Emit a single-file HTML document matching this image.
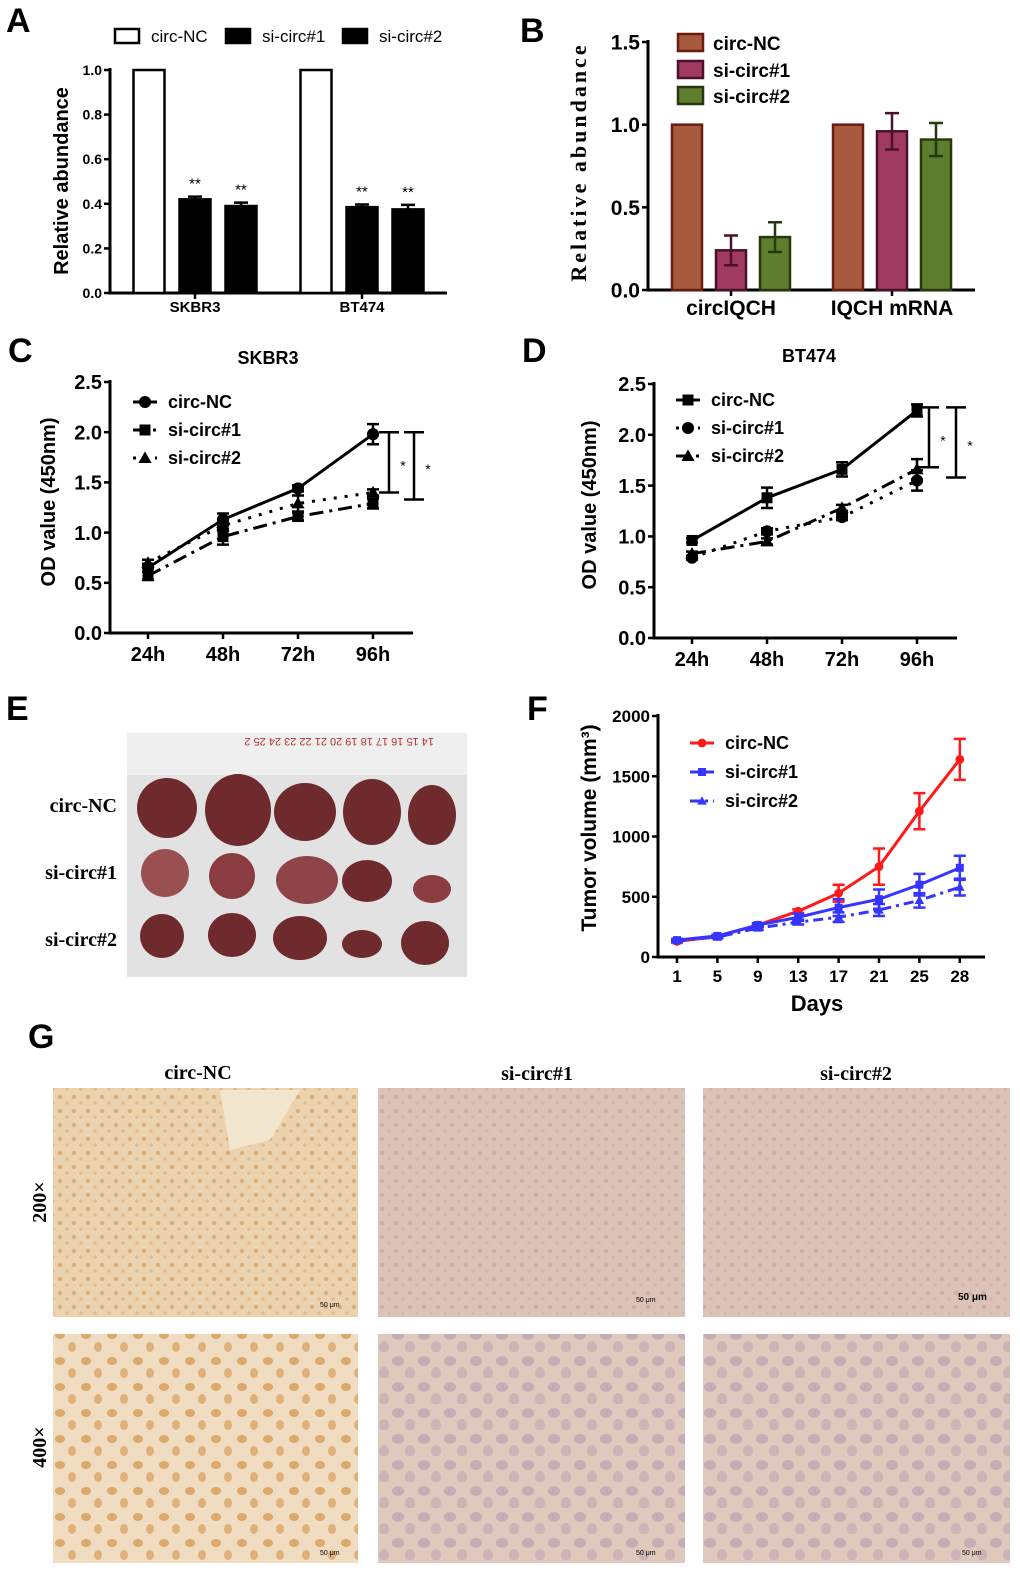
<!DOCTYPE html>
<html><head><meta charset="utf-8"><style>
html,body{margin:0;padding:0;background:#fff;}
svg{display:block;font-family:"Liberation Sans",Arial,sans-serif;}
.serif{font-family:"Liberation Serif",serif;}
</style></head><body>
<svg id="fig" width="1020" height="1577" viewBox="0 0 1020 1577" xmlns="http://www.w3.org/2000/svg">
<defs>
<pattern id="ihcNC" width="14" height="14" patternUnits="userSpaceOnUse"><rect width="14" height="14" fill="#ecd3b0"/><circle cx="4" cy="5" r="2.2" fill="#dcae78"/><circle cx="11" cy="11" r="1.8" fill="#e2bb8e"/></pattern>
<pattern id="ihcNC4" width="26" height="26" patternUnits="userSpaceOnUse"><rect width="26" height="26" fill="#f0dcc0"/><ellipse cx="8" cy="9" rx="5" ry="4" fill="#dca86c"/><ellipse cx="20" cy="21" rx="4" ry="5" fill="#e0b07a"/></pattern>
<pattern id="ihcSI" width="14" height="14" patternUnits="userSpaceOnUse"><rect width="14" height="14" fill="#dcc3b6"/><circle cx="4" cy="5" r="2.2" fill="#c9afb2"/><circle cx="11" cy="11" r="1.8" fill="#d0b6b4"/></pattern>
<pattern id="ihcSI4" width="26" height="26" patternUnits="userSpaceOnUse"><rect width="26" height="26" fill="#dfc8bc"/><ellipse cx="8" cy="9" rx="6" ry="5" fill="#c6acb4"/><ellipse cx="20" cy="21" rx="5" ry="6" fill="#cdb3b6"/></pattern>
</defs>
<g id="labels" font-weight="bold" font-size="34">
<text x="6" y="32">A</text>
<text x="520" y="42">B</text>
<text x="8" y="362">C</text>
<text x="522" y="362">D</text>
<text x="6" y="720">E</text>
<text x="527" y="720">F</text>
<text x="28" y="1048">G</text>
</g>
<g id="panelA"></g><g id="panelB"></g><g id="panelC"></g><g id="panelD"></g><g id="panelF"></g>
<g id="panelE">
<rect x="127" y="733" width="340" height="244" fill="#e2e2e2"/>
<rect x="127" y="733" width="340" height="42" fill="#efefef"/>
<g font-size="11" fill="#b33" transform="rotate(180 297 742)">
<text x="160" y="746">14 15 16 17 18 19 20 21 22 23 24 25 2</text></g>
<g fill="#6e2a2c">
<ellipse cx="167" cy="808" rx="30" ry="30"/><ellipse cx="238" cy="810" rx="33" ry="36"/><ellipse cx="305" cy="812" rx="31" ry="29"/><ellipse cx="372" cy="812" rx="29" ry="33"/><ellipse cx="432" cy="815" rx="24" ry="30"/>
<ellipse cx="165" cy="873" rx="24" ry="24" fill="#9a5050"/><ellipse cx="232" cy="876" rx="23" ry="23" fill="#8a3c40"/><ellipse cx="307" cy="880" rx="31" ry="24" fill="#8e4448"/><ellipse cx="367" cy="881" rx="25" ry="21"/><ellipse cx="432" cy="889" rx="19" ry="14" fill="#8a3c40"/>
<ellipse cx="162" cy="936" rx="22" ry="22"/><ellipse cx="232" cy="935" rx="24" ry="22"/><ellipse cx="300" cy="938" rx="27" ry="22"/><ellipse cx="362" cy="944" rx="20" ry="14"/><ellipse cx="425" cy="943" rx="24" ry="22"/>
</g>
<g class="serif" font-weight="bold" font-size="20" text-anchor="end">
<text x="117" y="812">circ-NC</text>
<text x="117" y="879">si-circ#1</text>
<text x="117" y="946">si-circ#2</text>
</g></g>
<g id="panelG">
<g class="serif" font-weight="bold" font-size="20" text-anchor="middle">
<text x="198" y="1079">circ-NC</text>
<text x="537" y="1080">si-circ#1</text>
<text x="856" y="1080">si-circ#2</text>
<text transform="translate(46 1202) rotate(-90)">200×</text>
<text transform="translate(46 1447) rotate(-90)">400×</text>
</g>
<rect x="53" y="1088" width="305" height="229" fill="url(#ihcNC)"/>
<rect x="378" y="1088" width="307" height="229" fill="url(#ihcSI)"/>
<rect x="703" y="1088" width="307" height="229" fill="url(#ihcSI)"/>
<rect x="53" y="1334" width="305" height="229" fill="url(#ihcNC4)"/>
<rect x="378" y="1334" width="307" height="229" fill="url(#ihcSI4)"/>
<rect x="703" y="1334" width="307" height="229" fill="url(#ihcSI4)"/>
<path d="M220 1090 L300 1090 L270 1140 L230 1150 Z" fill="#f3e6cf"/>
<g font-size="7" fill="#000"><text x="320" y="1307">50 μm</text><text x="636" y="1302">50 μm</text><text x="958" y="1300" font-size="10" font-weight="bold">50 μm</text><text x="320" y="1555">50 μm</text><text x="636" y="1555">50 μm</text><text x="962" y="1555">50 μm</text></g>
</g>
</svg>
<script>
// Panel A data
const aCats = ['SKBR3','BT474'];
const aNC = [1.0, 1.0];
const aSi1 = [0.42, 0.385];
const aSi2 = [0.39, 0.375];
const aSi1Err = [0.012, 0.012];
const aSi2Err = [0.015, 0.02];
const aTicks = ['0.0','0.2','0.4','0.6','0.8','1.0'];
// Panel B data
const bCats = ['circIQCH','IQCH mRNA'];
const bNC = [1.0, 1.0];
const bSi1 = [0.24, 0.96];
const bSi2 = [0.32, 0.91];
const bSi1Err = [0.09, 0.11];
const bSi2Err = [0.09, 0.10];
const bTicks = ['0.0','0.5','1.0','1.5'];
// Panel C data
const cCats = ['24h','48h','72h','96h'];
const cNC = [0.65, 1.13, 1.44, 1.98];
const cSi1 = [0.57, 0.96, 1.16, 1.29];
const cSi2 = [0.70, 1.07, 1.29, 1.40];
const cNCErr = [0.04, 0.06, 0.03, 0.1];
const cSi1Err = [0.04, 0.08, 0.04, 0.05];
const cSi2Err = [0.03, 0.05, 0.08, 0.03];
// Panel D data
const dCats = ['24h','48h','72h','96h'];
const dNC = [0.96, 1.38, 1.66, 2.24];
const dSi1 = [0.79, 1.05, 1.19, 1.55];
const dSi2 = [0.83, 0.95, 1.28, 1.66];
const dNCErr = [0.02, 0.1, 0.07, 0.06];
const dSi1Err = [0.02, 0.03, 0.03, 0.1];
const dSi2Err = [0.02, 0.03, 0.03, 0.1];
const odTicks = ['0.0','0.5','1.0','1.5','2.0','2.5'];
// Panel F data
const fCats = ['1','5','9','13','17','21','25','28'];
const fNC = [130, 170, 265, 380, 530, 750, 1210, 1640];
const fSi1 = [140, 175, 265, 330, 410, 480, 600, 740];
const fSi2 = [135, 165, 240, 290, 330, 390, 470, 580];
const fNCErr = [10, 10, 10, 15, 70, 150, 150, 170];
const fSi1Err = [10, 10, 15, 30, 70, 80, 90, 100];
const fSi2Err = [10, 10, 15, 20, 40, 50, 60, 70];
const fTicks = ['0','500','1000','1500','2000'];

const NS='http://www.w3.org/2000/svg';
function mk(parent, tag, attrs, text){
  const e=document.createElementNS(NS,tag);
  for(const k in attrs) e.setAttribute(k,attrs[k]);
  if(text!==undefined) e.textContent=text;
  parent.appendChild(e); return e;
}
function lin(d0,d1,r0,r1){return v=>r0+(v-d0)/(d1-d0)*(r1-r0);}

function yAxis(g, x, y0, y1, x2, ticks, scale, fs){
  const ax=mk(g,'path',{d:`M${x} ${y1-2} V${y0} H${x2}`,stroke:'#000','stroke-width':3,fill:'none'});
  
  
  ticks.forEach(t=>{
    const y=scale(parseFloat(t));
    mk(g,'line',{x1:x-6,x2:x,y1:y,y2:y,stroke:'#000','stroke-width':2.5});
    const tl=mk(g,'text',{x:x-8,y:y+fs*0.36,'text-anchor':'end','font-size':fs,'font-weight':'bold'},t);
    
    
  });
}

function barPanel(id, o){
  const g=document.getElementById(id);
  const y=lin(0,o.ymax,o.y0,o.y1);
  yAxis(g,o.x,o.y0,o.y1,o.x2,o.ticks,y,o.tfs);
  o.cats.forEach((c,i)=>{
    const cx=o.cx[i];
    mk(g,'line',{x1:cx,x2:cx,y1:o.y0,y2:o.y0+6,stroke:'#000','stroke-width':2.5});
    const cl=mk(g,'text',{x:cx,y:o.y0+o.cfs+4,'text-anchor':'middle','font-size':o.cfs,'font-weight':'bold'},c);
    
    
    o.series.forEach((s,j)=>{
      const bx=cx+(j-1)*o.gap-o.bw/2, v=s.vals[i];
      const r=mk(g,'rect',{x:bx,y:y(v),width:o.bw,height:o.y0-y(v),fill:s.fill,stroke:s.stroke,'stroke-width':2.5});
      
      
      if(s.err){
        const e=s.err[i], mx=bx+o.bw/2;
        mk(g,'path',{d:`M${mx} ${y(v+e)} V${y(Math.max(0,v-(o.twoSided?e:0)))} M${mx-7} ${y(v+e)} H${mx+7}`+(o.twoSided?` M${mx-7} ${y(v-e)} H${mx+7}`:''),stroke:s.stroke,'stroke-width':2.5,fill:'none'});
        if(o.stars){const st=mk(g,'text',{x:mx,y:y(v+e)-8,'text-anchor':'middle','font-size':15},'**');
          
          }
      }
    });
  });
  o.legend.forEach((l,k)=>{
    mk(g,'rect',{x:l.x,y:l.y,width:o.lw,height:o.lh,fill:o.series[k].fill,stroke:o.series[k].stroke,'stroke-width':2.5});
    const lt=mk(g,'text',{x:l.x+o.lw+o.lgap,y:l.y+o.lh-1,'font-size':o.lfs,'font-weight':o.lbold?'bold':'normal'},o.series[k].label);
    
    
  });
}

barPanel('panelA',{x:110,x2:447,y0:293,y1:70,ymax:1.0,ticks:aTicks,tfs:14,cats:aCats,cx:[195,362],cfs:15,gap:46,bw:31,stars:true,twoSided:false,
 series:[{name:'circ-nc',label:'circ-NC',vals:aNC,fill:'#fff',stroke:'#000'},{name:'si-circ1',label:'si-circ#1',vals:aSi1,err:aSi1Err,fill:'#000',stroke:'#000'},{name:'si-circ2',label:'si-circ#2',vals:aSi2,err:aSi2Err,fill:'#000',stroke:'#000'}],
 legend:[{x:115,y:29},{x:226,y:29},{x:343,y:29}],lw:24,lh:14,lgap:12,lfs:17,lbold:false});
(function(){const t=mk(document.getElementById('panelA'),'text',{transform:'translate(68 181) rotate(-90)','text-anchor':'middle','font-size':20,'font-weight':'bold'},'Relative abundance');
 
 })();

barPanel('panelB',{x:648,x2:975,y0:290,y1:42,ymax:1.5,ticks:bTicks,tfs:21,cats:bCats,cx:[731,892],cfs:21,gap:44,bw:30,stars:false,twoSided:true,
 series:[{name:'circ-nc',label:'circ-NC',vals:bNC,fill:'#a85a3e',stroke:'#6a1c0e'},{name:'si-circ1',label:'si-circ#1',vals:bSi1,err:bSi1Err,fill:'#a03a5e',stroke:'#4c0f2c'},{name:'si-circ2',label:'si-circ#2',vals:bSi2,err:bSi2Err,fill:'#5e7e2e',stroke:'#26390e'}],
 legend:[{x:678,y:34},{x:678,y:61},{x:678,y:87}],lw:25,lh:17,lgap:10,lfs:19,lbold:true});
(function(){const t=mk(document.getElementById('panelB'),'text',{class:'serif',transform:'translate(586 162) rotate(-90)','text-anchor':'middle','font-size':22,'font-weight':'bold','letter-spacing':'3'},'Relative abundance');
 
 })();

function marker(g,type,x,y,s,color){
  if(type==='circle') return mk(g,'circle',{cx:x,cy:y,r:s*0.55,fill:color});
  if(type==='square') return mk(g,'rect',{x:x-s/2,y:y-s/2,width:s,height:s,fill:color});
  return mk(g,'path',{d:`M${x} ${y-s*0.6} L${x+s*0.6} ${y+s*0.45} L${x-s*0.6} ${y+s*0.45} Z`,fill:color});
}

function linePanel(id,o){
  const g=document.getElementById(id);
  const y=lin(0,o.ymax,o.y0,o.y1);
  const x=i=>o.xs0+i*o.dx;
  yAxis(g,o.x,o.y0,o.y1,o.x2,o.ticks,y,o.tfs);
  o.cats.forEach((c,i)=>{
    mk(g,'line',{x1:x(i),x2:x(i),y1:o.y0,y2:o.y0+6,stroke:'#000','stroke-width':2.5});
    const cl=mk(g,'text',{x:x(i),y:o.y0+o.cfs+8,'text-anchor':'middle','font-size':o.cfs,'font-weight':'bold'},c);
    
    
  });
  o.series.forEach(s=>{
    const d=s.vals.map((v,i)=>(i?'L':'M')+x(i)+' '+y(v)).join(' ');
    const p=mk(g,'path',{d:d,fill:'none',stroke:s.color,'stroke-width':3,'stroke-dasharray':s.dash||'none'});
    
    
    s.vals.forEach((v,i)=>{
      const e=s.err[i];
      mk(g,'path',{d:`M${x(i)} ${y(v+e)} V${y(v-e)} M${x(i)-6} ${y(v+e)} H${x(i)+6} M${x(i)-6} ${y(v-e)} H${x(i)+6}`,stroke:s.color,'stroke-width':2.5,fill:'none'});
      const m=marker(g,s.marker,x(i),y(v),o.ms,s.color);
      
      
    });
  });
  o.series.forEach((s,k)=>{
    const ly=o.ly0+k*o.ldy;
    mk(g,'line',{x1:o.lx,x2:o.lx+24,y1:ly,y2:ly,stroke:s.color,'stroke-width':3,'stroke-dasharray':s.dash||'none'});
    marker(g,s.marker,o.lx+12,ly,o.ms,s.color);
    const lt=mk(g,'text',{x:o.lx+35,y:ly+6,'font-size':o.lfs,'font-weight':'bold'},s.label);
    
    
  });
  (o.brackets||[]).forEach(b=>{
    mk(g,'path',{d:`M${b.x-10} ${y(b.a)} H${b.x+10} M${b.x} ${y(b.a)} V${y(b.b)} M${b.x-10} ${y(b.b)} H${b.x+10}`,stroke:'#000','stroke-width':2.5,fill:'none'});
    const st=mk(g,'text',{x:b.x+14,y:(y(b.a)+y(b.b))/2+8,'text-anchor':'middle','font-size':14},'*');
    
    
  });
  if(o.title){const t=mk(g,'text',{x:o.title.x,y:o.title.y,'text-anchor':'middle','font-size':18,'font-weight':'bold'},o.title.t);
    
    }
  const yt=mk(g,'text',{transform:`translate(${o.yt.x} ${o.yt.y}) rotate(-90)`,'text-anchor':'middle','font-size':o.yt.fs,'font-weight':'bold'},o.yt.t);
  
  
}

linePanel('panelC',{x:110,x2:413,y0:633,y1:382,ymax:2.5,ticks:odTicks,tfs:20,cats:cCats,xs0:148,dx:75,cfs:20,ms:11,
 series:[{name:'circ-nc',label:'circ-NC',vals:cNC,err:cNCErr,marker:'circle',color:'#000'},
 {name:'si-circ1',label:'si-circ#1',vals:cSi1,err:cSi1Err,marker:'square',color:'#000',dash:'14 6 3 6'},
 {name:'si-circ2',label:'si-circ#2',vals:cSi2,err:cSi2Err,marker:'triangle',color:'#000',dash:'3 8'}],
 lx:133,ly0:402,ldy:28,lfs:18,brackets:[{x:389,a:2.0,b:1.4},{x:414,a:2.0,b:1.33}],
 title:{x:268,y:364,t:'SKBR3'},yt:{x:55,y:502,fs:20,t:'OD value (450nm)'}});

linePanel('panelD',{x:654,x2:957,y0:638,y1:384,ymax:2.5,ticks:odTicks,tfs:20,cats:dCats,xs0:692,dx:75,cfs:20,ms:11,
 series:[{name:'circ-nc',label:'circ-NC',vals:dNC,err:dNCErr,marker:'square',color:'#000'},
 {name:'si-circ1',label:'si-circ#1',vals:dSi1,err:dSi1Err,marker:'circle',color:'#000',dash:'3 8'},
 {name:'si-circ2',label:'si-circ#2',vals:dSi2,err:dSi2Err,marker:'triangle',color:'#000',dash:'14 6 3 6'}],
 lx:676,ly0:400,ldy:28,lfs:18,brackets:[{x:929,a:2.27,b:1.68},{x:956,a:2.27,b:1.58}],
 title:{x:809,y:362,t:'BT474'},yt:{x:596,y:505,fs:20,t:'OD value (450nm)'}});

linePanel('panelF',{x:658,x2:985,y0:957,y1:716,ymax:2000,ticks:fTicks,tfs:17,cats:fCats,xs0:677,dx:40.4,cfs:17,ms:8,
 series:[{name:'circ-nc',label:'circ-NC',vals:fNC,err:fNCErr,marker:'circle',color:'#ff1a1a'},
 {name:'si-circ1',label:'si-circ#1',vals:fSi1,err:fSi1Err,marker:'square',color:'#3535ff'},
 {name:'si-circ2',label:'si-circ#2',vals:fSi2,err:fSi2Err,marker:'triangle',color:'#3535ff',dash:'10 5 3 5'}],
 lx:690,ly0:743,ldy:29,lfs:18,
 yt:{x:596,y:828,fs:21,t:'Tumor  volume (mm³)'}});
(function(){const t=mk(document.getElementById('panelF'),'text',{x:817,y:1011,'text-anchor':'middle','font-size':22,'font-weight':'bold'},'Days');
 
 })();
</script>
</body></html>
